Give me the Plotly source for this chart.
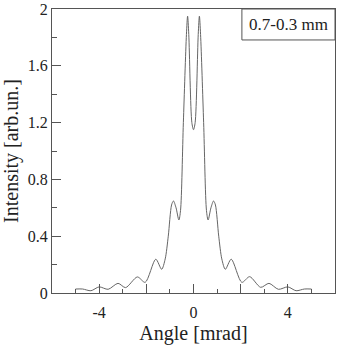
import plotly.graph_objects as go

# angle [mrad] and intensity [arb.un.] (knots, smoothed by plotly spline)
angle = [
    -5.0, -4.7, -4.35, -4.0, -3.62, -3.2, -2.88, -2.38, -2.05, -1.6, -1.35,
    -1.2, -1.07, -0.93, -0.85, -0.74, -0.62, -0.55, -0.43, -0.3, -0.25, -0.2,
    -0.07, 0.0,
    0.07, 0.2, 0.25, 0.3, 0.43, 0.55, 0.62, 0.74, 0.85, 0.93, 1.07, 1.2,
    1.35, 1.6, 2.05, 2.38, 2.85, 3.2, 3.6, 4.0, 4.35, 4.7, 5.0,
]
intensity = [
    0.028, 0.028, 0.016, 0.043, 0.026, 0.068, 0.038, 0.113, 0.075, 0.238, 0.167,
    0.24, 0.40, 0.62, 0.648, 0.6, 0.514, 0.58, 1.2, 1.82, 1.95, 1.82,
    1.2, 1.15,
    1.2, 1.82, 1.95, 1.82, 1.2, 0.58, 0.514, 0.6, 0.648, 0.62, 0.40, 0.24,
    0.167, 0.238, 0.075, 0.115, 0.04, 0.068, 0.026, 0.043, 0.016, 0.028, 0.028,
]

label = "0.7-0.3 mm"
x_ticks = [-4, -2, 0, 2, 4]
x_tick_text = ["-4", "", "0", "", "4"]
y_ticks = [0, 0.4, 0.8, 1.2, 1.6, 2]
y_tick_text = ["0", "0.4", "0.8", "1.2", "1.6", "2"]

font = "Liberation Serif"
frame = "#555"

fig = go.Figure()
fig.add_trace(go.Scatter(
    x=angle, y=intensity, mode="lines",
    line=dict(color="#666", width=1, shape="spline", smoothing=0.8),
    showlegend=False,
))

axis_common = dict(
    showline=True, linecolor=frame, linewidth=1, mirror=True,
    ticks="inside", ticklen=9, tickcolor=frame, tickwidth=1,
    showgrid=False, zeroline=False, automargin=False,
    tickfont=dict(family=font, size=16, color="#222"),
)

fig.update_xaxes(
    range=[-6, 6], tickvals=x_ticks, ticktext=x_tick_text,
    ticklabelstandoff=5,
    minor=dict(dtick=1, ticks="inside", ticklen=4, tickcolor=frame, showgrid=False),
    title=dict(text="Angle [mrad]", font=dict(family=font, size=20, color="#222"), standoff=5),
    **axis_common,
)
fig.update_yaxes(
    range=[0, 2], tickvals=y_ticks, ticktext=y_tick_text,
    minor=dict(dtick=0.2, ticks="inside", ticklen=5, tickcolor=frame, showgrid=False),
    title=dict(text="Intensity [arb.un.]", font=dict(family=font, size=20, color="#222"), standoff=6),
    **axis_common,
)

# label box in the top right corner
fig.add_shape(type="rect", xref="paper", yref="paper", x0=0.671, x1=1, y0=0.891, y1=1,
              line=dict(color=frame, width=1), fillcolor="white")
fig.add_annotation(text=label, xref="paper", yref="paper", x=0.8355, y=0.9455,
                   xanchor="center", yanchor="middle", showarrow=False,
                   font=dict(family=font, size=17, color="#222"))

fig.update_layout(
    width=343, height=345,
    margin=dict(l=52, r=8, t=9, b=52),
    plot_bgcolor="white", paper_bgcolor="white",
)

# page body has a default margin, drop it so the figure sits at the window corner
fig.write_html("out.html", config={"displayModeBar": False},
               post_script="document.body.style.margin='0';")
